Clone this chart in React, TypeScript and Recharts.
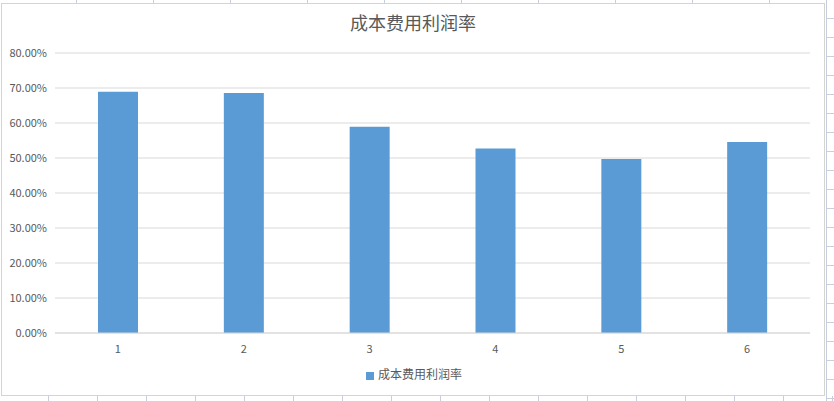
import React from "react";
import { BarChart, Bar, XAxis, YAxis, CartesianGrid, Legend } from "recharts";

const categories = ["1", "2", "3", "4", "5", "6"];
const rates = [68.9, 68.6, 58.9, 52.7, 49.7, 54.6];
const yTicks = [0, 10, 20, 30, 40, 50, 60, 70, 80];
const seriesName = "成本费用利润率";
const title = "成本费用利润率";

const data = categories.map((c, i) => ({ name: c, value: rates[i] }));

const FONT = '"Noto Sans CJK SC", "Noto Sans", sans-serif';
const TXT = "#595959";

export default function App() {
  return (
    <div
      style={{
        position: "fixed",
        left: 0,
        top: 0,
        width: 834,
        height: 401,
        background: "#ffffff",
        overflow: "hidden",
        fontFamily: FONT,
      }}
    >
      {/* spreadsheet cell lines outside the chart */}
      <div
        style={{
          position: "absolute",
          left: 0,
          top: 0,
          width: 834,
          height: 3,
          backgroundImage:
            "repeating-linear-gradient(to right, transparent 0px, transparent 76px, #c8cedb 76px, #c8cedb 77px)",
        }}
      />
      <div
        style={{
          position: "absolute",
          left: 0,
          top: 396,
          width: 834,
          height: 5,
          backgroundImage:
            "repeating-linear-gradient(to right, transparent 0px, transparent 48px, #c8cedb 48px, #c8cedb 49px)",
        }}
      />
      <div
        style={{
          position: "absolute",
          left: 826,
          top: 0,
          width: 8,
          height: 401,
          borderLeft: "1px solid #c8cedb",
          backgroundImage:
            "repeating-linear-gradient(to bottom, transparent 0px, transparent 18px, #c8cedb 18px, #c8cedb 19px)",
        }}
      />
      {/* chart area */}
      <div
        style={{
          position: "absolute",
          left: 1,
          top: 3,
          width: 822,
          height: 391,
          border: "1px solid #d4d4d4",
          background: "#ffffff",
        }}
      />
      <div
        style={{
          position: "absolute",
          left: 0,
          top: 9,
          width: 826,
          textAlign: "center",
          fontSize: 18,
          color: TXT,
          fontFamily: FONT,
        }}
      >
        {title}
      </div>
      <div style={{ position: "absolute", left: 0, top: 0 }}>
        <BarChart
          width={834}
          height={401}
          data={data}
          margin={{ top: 53, right: 24, bottom: 21, left: 0 }}
        >
          <CartesianGrid vertical={false} stroke="#d9d9d9" />
          <XAxis
            dataKey="name"
            axisLine={{ stroke: "#d9d9d9" }}
            tickLine={false}
            tickMargin={6}
            tick={{ fill: TXT, fontSize: 11, fontFamily: FONT }}
            height={30}
          />
          <YAxis
            domain={[0, 80]}
            ticks={yTicks}
            width={55}
            axisLine={false}
            tickLine={false}
            interval={0}
            tickFormatter={(v: number) => `${v.toFixed(2)}%`}
            tick={{ fill: TXT, fontSize: 11, fontFamily: FONT }}
          />
          <Legend
            verticalAlign="bottom"
            align="center"
            iconType="square"
            iconSize={8}
            wrapperStyle={{ bottom: 19, left: 14, fontSize: 12, fontFamily: FONT }}
            formatter={(v: string) => <span style={{ color: TXT }}>{v}</span>}
          />
          <Bar
            dataKey="value"
            name={seriesName}
            fill="#5b9bd5"
            barSize={40}
            isAnimationActive={false}
          />
        </BarChart>
      </div>
    </div>
  );
}
